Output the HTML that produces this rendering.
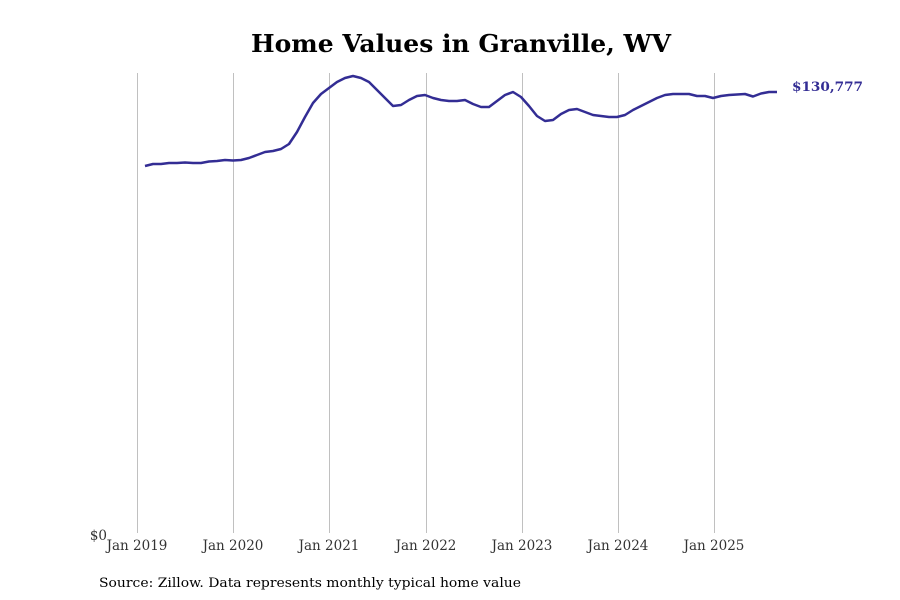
<!DOCTYPE html>
<html><head><meta charset="utf-8"><style>
html,body{margin:0;padding:0;background:#fff;}
svg{display:block;}
</style></head><body>
<svg width="900" height="600" viewBox="0 0 900 600" xmlns="http://www.w3.org/2000/svg">
<rect width="900" height="600" fill="#fff"/>
<text x="461" y="52" text-anchor="middle" font-family="DejaVu Serif, serif" font-weight="bold" font-size="24" fill="#000" textLength="420" lengthAdjust="spacingAndGlyphs">Home Values in Granville, WV</text>
<g stroke="#c0c0c0" stroke-width="1">
<line x1="137.5" y1="73" x2="137.5" y2="533"/>
<line x1="233.5" y1="73" x2="233.5" y2="533"/>
<line x1="329.5" y1="73" x2="329.5" y2="533"/>
<line x1="426.5" y1="73" x2="426.5" y2="533"/>
<line x1="522.5" y1="73" x2="522.5" y2="533"/>
<line x1="618.5" y1="73" x2="618.5" y2="533"/>
<line x1="714.5" y1="73" x2="714.5" y2="533"/>
</g>
<g font-family="DejaVu Serif, serif" font-size="13.5" fill="#333" text-anchor="middle">
<text x="137" y="550">Jan 2019</text>
<text x="233" y="550">Jan 2020</text>
<text x="329" y="550">Jan 2021</text>
<text x="426" y="550">Jan 2022</text>
<text x="522" y="550">Jan 2023</text>
<text x="618" y="550">Jan 2024</text>
<text x="714" y="550">Jan 2025</text>
</g>
<text x="107" y="540" text-anchor="end" font-family="DejaVu Serif, serif" font-size="13.5" fill="#333">$0</text>
<polyline fill="none" stroke="#332d94" stroke-width="2.5" stroke-linejoin="round" points="145,166 153,164 161,164 169,163 177,163 185,162.5 193,163 201,163 209,161.5 217,161 225,160 233,160.5 241,160 249,158 257,155 265,152 273,151 281,149 289,144 297,132 305,117 313,103 321,94 329,88 337,82 345,78 353,76 361,78 369,82 377,90 385,98 393,106 401,105 409,100 417,96 425,95 433,98 441,100 449,101 457,101 465,100 473,104 481,107 489,107 497,101 505,95 513,92 521,97 529,106 537,116 545,121 553,120 561,114 569,110 577,109 585,112 593,115 601,116 609,117 617,117 625,115 633,110 641,106 649,102 657,98 665,95 673,94 681,94 689,94 697,96 705,96 713,98 721,96 729,95 737,94.5 745,94 753,96.5 761,93.5 769,92 777,92"/>
<text x="792" y="91" font-family="DejaVu Serif, serif" font-weight="bold" font-size="13" fill="#332d94" textLength="71" lengthAdjust="spacingAndGlyphs">$130,777</text>
<text x="99" y="587" font-family="DejaVu Serif, serif" font-size="13" fill="#000" textLength="422" lengthAdjust="spacingAndGlyphs">Source: Zillow. Data represents monthly typical home value</text>
</svg>
</body></html>
